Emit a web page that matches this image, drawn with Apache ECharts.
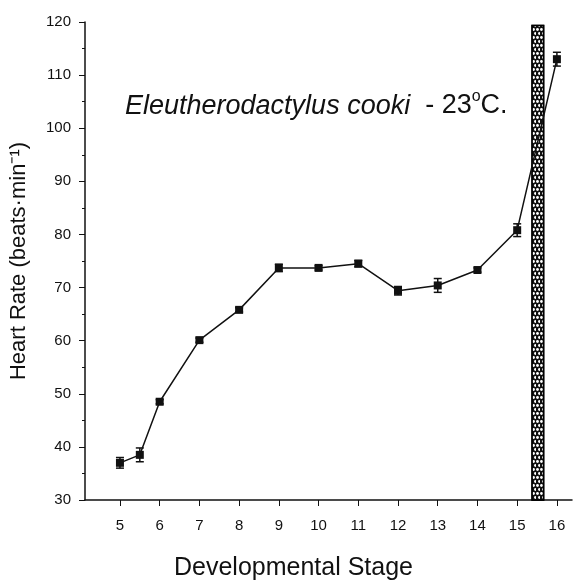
<!DOCTYPE html>
<html lang="en">
<head>
<meta charset="UTF-8">
<title>Eleutherodactylus cooki heart rate</title>
<script src="https://cdn.jsdelivr.net/npm/echarts/dist/echarts.min.js"></script>
<style>
  body { margin: 0; padding: 0; background: #fff; }
  #chart { width: 573px; height: 582px; }
</style>
</head>
<body>
<div id="chart"></div>
<script>
// developmental stages, mean heart rate and error (beats/min)
const stages = [5, 5.5, 6, 7, 8, 9, 10, 11, 12, 13, 14, 15, 16];
const heartRate = [37.0, 38.5, 48.5, 60.1, 65.8, 73.7, 73.7, 74.5, 69.4, 70.4, 73.3, 80.8, 113.0];
const errors = [1.0, 1.3, 0.4, 0.4, 0.4, 0.7, 0.4, 0.6, 0.8, 1.3, 0.4, 1.2, 1.3];
const stageTicks = [5, 6, 7, 8, 9, 10, 11, 12, 13, 14, 15, 16];
// hatched bar marking hatching stage
const hatchStage = [15.52];
const hatchTop = [119.5];

const chart = echarts.init(document.getElementById('chart'));
const font = 'Liberation Sans, Arial, sans-serif';

const lineData = stages.map((s, i) => [s, heartRate[i]]);
const errData = stages.map((s, i) => [s, heartRate[i], errors[i]]);

chart.setOption({
  animation: false,
  textStyle: { fontFamily: font },
  title: {
    left: 120,
    top: 84,
    text: '{i|Eleutherodactylus cooki}{n|  - 23}{s|o}{n|C.}',
    textStyle: {
      fontWeight: 'normal',
      rich: {
        i: { fontSize: 27, fontStyle: 'italic', fontWeight: 'normal', color: '#111', fontFamily: font },
        n: { fontSize: 27, fontWeight: 'normal', color: '#111', fontFamily: font },
        s: { fontSize: 16, fontWeight: 'normal', color: '#111', fontFamily: font, padding: [0, 0, 18, 0] }
      }
    }
  },
  grid: { left: 85, right: 1, top: 22, bottom: 82, outerBoundsMode: 'none' },
  xAxis: {
    type: 'value',
    min: 4.12,
    max: 16.38,
    name: 'Developmental Stage',
    nameLocation: 'middle',
    nameGap: 56,
    nameTextStyle: { fontSize: 25, color: '#111', padding: [0, 70, 0, 0] },
    axisLine: { lineStyle: { color: '#111', width: 1.5 } },
    axisTick: { length: 6, lineStyle: { color: '#111' }, customValues: stageTicks },
    axisLabel: { fontSize: 15, color: '#111', margin: 18, customValues: stageTicks },
    splitLine: { show: false }
  },
  yAxis: {
    type: 'value',
    min: 30,
    max: 120,
    interval: 10,
    name: 'Heart Rate (beats\u00b7min\u207b\u00b9)',
    nameLocation: 'middle',
    nameGap: 55,
    nameTextStyle: { fontSize: 22, color: '#111' },
    axisLine: { show: true, lineStyle: { color: '#111', width: 1.5 } },
    axisTick: { length: 6, lineStyle: { color: '#111' } },
    minorTick: { show: true, splitNumber: 2, length: 3, lineStyle: { color: '#111' } },
    axisLabel: { fontSize: 15, color: '#111', margin: 14 },
    splitLine: { show: false }
  },
  series: [
    {
      type: 'bar',
      z: 1,
      barWidth: 13,
      data: hatchStage.map((s, i) => [s, hatchTop[i]]),
      itemStyle: {
        color: '#111',
        borderColor: '#000',
        borderWidth: 1.5,
        decal: {
          symbol: 'circle',
          symbolSize: 0.95,
          color: '#fff',
          backgroundColor: '#111',
          dashArrayX: [[3, 1], [0, 2, 3, -1]],
          dashArrayY: [3, 0.5],
          rotation: 0
        }
      }
    },
    {
      type: 'line',
      z: 3,
      data: lineData,
      symbol: 'rect',
      symbolSize: 8,
      lineStyle: { color: '#111', width: 1.5 },
      itemStyle: { color: '#111' }
    },
    {
      type: 'custom',
      z: 4,
      data: errData,
      renderItem: function (params, api) {
        const x = api.value(0);
        const y = api.value(1);
        const e = api.value(2);
        const hi = api.coord([x, y + e]);
        const lo = api.coord([x, y - e]);
        const w = 4;
        const st = { stroke: '#111', lineWidth: 1.5 };
        return {
          type: 'group',
          children: [
            { type: 'line', shape: { x1: hi[0], y1: hi[1], x2: lo[0], y2: lo[1] }, style: st },
            { type: 'line', shape: { x1: hi[0] - w, y1: hi[1], x2: hi[0] + w, y2: hi[1] }, style: st },
            { type: 'line', shape: { x1: lo[0] - w, y1: lo[1], x2: lo[0] + w, y2: lo[1] }, style: st }
          ]
        };
      }
    }
  ]
});
</script>
</body>
</html>
